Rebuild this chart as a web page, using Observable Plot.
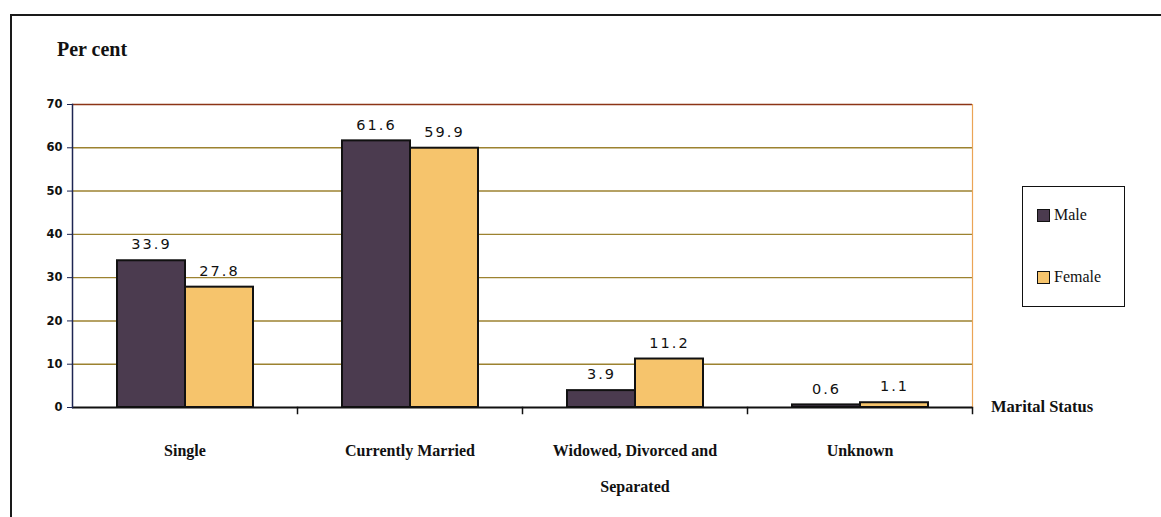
<!DOCTYPE html>
<html>
<head>
<meta charset="utf-8">
<script src="https://cdn.jsdelivr.net/npm/d3@7"></script>
<script src="https://cdn.jsdelivr.net/npm/@observablehq/plot@0.6"></script>
<style>
  html, body { margin: 0; padding: 0; background: #fff; }
  #wrap { position: relative; width: 1161px; height: 517px; overflow: hidden; }
  #border { position: absolute; left: 10px; top: 14px; right: -10px; bottom: -10px;
            border-top: 2px solid #1a1a1a; border-left: 2px solid #1a1a1a; }
  .serifb { font-family: "Liberation Serif", "DejaVu Serif", serif; font-weight: bold; color: #111; position: absolute; white-space: nowrap; }
  #ylabel { left: 57px; top: 38px; font-size: 20px; }
  #xlabel { left: 991px; top: 397px; font-size: 16.5px; }
  #legend { position: absolute; left: 1022px; top: 186px; width: 101px; height: 119px;
            border: 1.5px solid #111; font-family: "Liberation Serif", serif; font-size: 16px; color: #111; }
  .item { position: absolute; left: 14px; display: flex; align-items: center; }
  .sw { width: 11px; height: 11px; border: 1.5px solid #111; margin-right: 4px; }
  svg { position: absolute; left: 0; top: 0; }
  .vals text { letter-spacing: 2px; }
</style>
</head>
<body>
<div id="wrap">
  <div id="border"></div>
  <div id="ylabel" class="serifb">Per cent</div>
  <div id="xlabel" class="serifb">Marital Status</div>
  <div id="legend"></div>
</div>
<script>
const categories = ["Single", "Currently Married", "Widowed, Divorced and Separated", "Unknown"];
const categoryLabels = ["Single", "Currently Married", "Widowed, Divorced and\nSeparated", "Unknown"];
const series = ["Male", "Female"];
const maleValues = [33.9, 61.6, 3.9, 0.6];
const femaleValues = [27.8, 59.9, 11.2, 1.1];
const yTicks = [0, 10, 20, 30, 40, 50, 60, 70];
const seriesColors = ["#4b3b4f", "#f6c46c"];

const data = categories.flatMap((c, i) => [
  {category: c, sex: "Male", value: maleValues[i]},
  {category: c, sex: "Female", value: femaleValues[i]}
]);
const labelOf = new Map(categories.map((c, i) => [c, categoryLabels[i]]));

const chart = Plot.plot({
  width: 1161,
  height: 517,
  marginLeft: 71,
  marginRight: 189,
  marginTop: 104,
  marginBottom: 110,
  style: {background: "transparent", fontFamily: "Liberation Sans, sans-serif"},
  fx: {domain: categories, padding: 0, label: null, axis: null},
  x: {domain: series, paddingInner: 0, paddingOuter: 0.64, axis: null},
  y: {domain: [0, 70], axis: null, label: null},
  color: {domain: series, range: seriesColors},
  marks: [
    Plot.gridY(yTicks.filter(t => t > 0 && t < 70), {stroke: "#9c8230", strokeOpacity: 1, strokeWidth: 1.4}),
    Plot.ruleY([70], {stroke: "#8c3416", strokeWidth: 1.5}),
    Plot.frame({anchor: "right", facetAnchor: "right", stroke: "#eba456", strokeWidth: 1.2}),
    Plot.barY(data, {fx: "category", x: "sex", y: "value", fill: "sex", stroke: "#111", strokeWidth: 2}),
    Plot.ruleY([0], {stroke: "#111", strokeWidth: 2}),
    Plot.frame({anchor: "right", insetTop: 303, insetBottom: -6, stroke: "#111", strokeWidth: 1.5}),
    Plot.text(data, {fx: "category", x: "sex", y: "value", text: d => d.value.toFixed(1), dy: -16,
      fontSize: 14.5, fill: "#111", fontFamily: "DejaVu Sans, sans-serif", className: "vals"}),
    Plot.axisY({ticks: yTicks, anchor: "left", label: null, tickSize: 5, tickPadding: 5, stroke: "#1d2552",
      fontSize: 11.5, fontWeight: "bold", fontFamily: "DejaVu Sans, sans-serif", fill: "#111"}),
    Plot.frame({anchor: "left", facetAnchor: "left", stroke: "#1d2552", strokeWidth: 1.5}),
    Plot.axisFx({anchor: "bottom", tickSize: 0, tickPadding: 22, label: null,
      tickFormat: c => labelOf.get(c), lineHeight: 2.3,
      fontSize: 16, fontWeight: "bold", fontFamily: "Liberation Serif, serif", fill: "#111"})
  ]
});
document.getElementById("wrap").appendChild(chart);

// legend built from series arrays
const legend = document.getElementById("legend");
series.forEach((s, i) => {
  const item = document.createElement("div");
  item.className = "item";
  item.style.top = (i === 0 ? 19 : 81) + "px";
  const sw = document.createElement("div");
  sw.className = "sw";
  sw.style.background = seriesColors[i];
  const t = document.createElement("span");
  t.textContent = s;
  item.appendChild(sw);
  item.appendChild(t);
  legend.appendChild(item);
});
</script>
</body>
</html>
